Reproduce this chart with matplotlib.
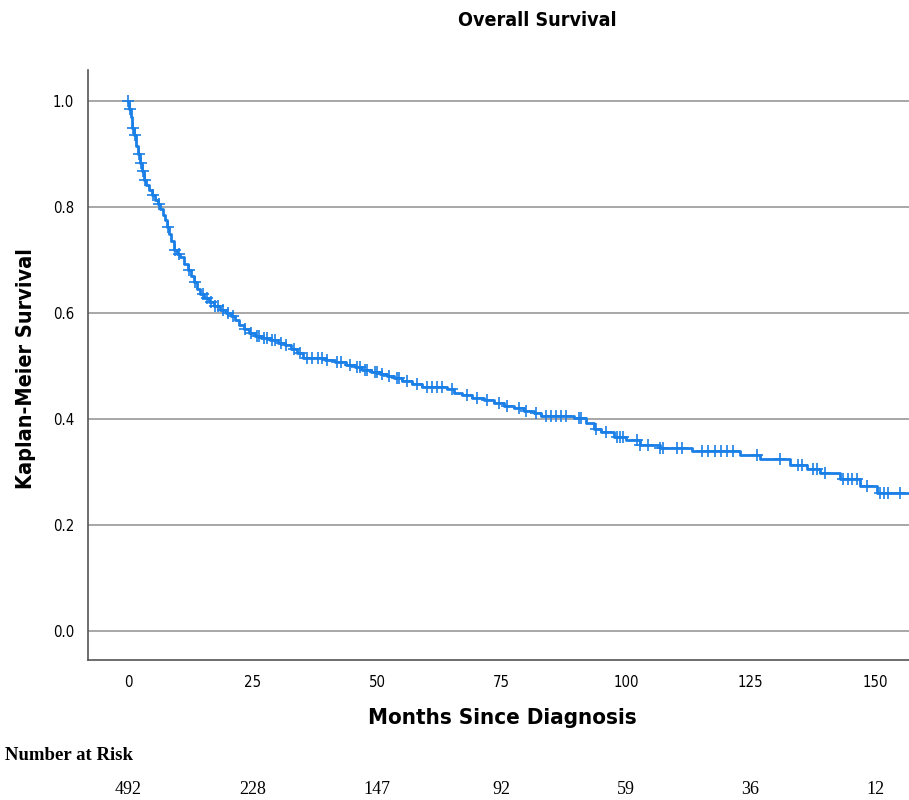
import numpy as np
import matplotlib
matplotlib.use("Agg")
import matplotlib.pyplot as plt
from matplotlib import font_manager

# ---------------- data ----------------
event_times = [0, 0.3, 0.6, 0.9, 1.2, 1.6, 2.0, 2.4, 2.8, 3.2, 3.7, 4.2, 4.8, 5.4,
               6.0, 6.5, 7.0, 7.4, 7.8, 8.2, 8.7, 9.2, 9.8, 10.5, 11.2, 12.0, 12.6,
               13.2, 13.8, 14.5, 15.3, 16.2, 17.2, 18.4, 19.6, 20.6, 21.5, 22.3,
               23.2, 24.2, 25.4, 26.8, 28.5, 30.2, 31.5, 32.8, 34.0, 35.2, 39.5,
               41.5, 43.8, 45.5, 47.0, 48.8, 50.5, 52.0, 53.5, 55.0, 57.0, 59.0,
               64.0, 65.5, 67.0, 69.0, 71.5, 73.5, 75.5, 77.5, 79.5, 81.5, 83.0,
               89.5, 92.0, 93.5, 95.0, 97.5, 100.0, 102.8, 106.8, 113.3, 122.9,
               126.9, 132.9, 136.3, 139.0, 143.0, 147.0, 150.4, 158.0]
survival = [1.0, 0.985, 0.97, 0.95, 0.935, 0.915, 0.9, 0.883, 0.868, 0.851, 0.842,
            0.832, 0.822, 0.813, 0.805, 0.797, 0.785, 0.775, 0.762, 0.75, 0.735,
            0.719, 0.712, 0.705, 0.693, 0.681, 0.67, 0.658, 0.645, 0.636, 0.628,
            0.621, 0.613, 0.606, 0.6, 0.594, 0.586, 0.578, 0.57, 0.562, 0.557,
            0.553, 0.549, 0.544, 0.539, 0.532, 0.524, 0.516, 0.512, 0.508, 0.502,
            0.498, 0.493, 0.489, 0.485, 0.481, 0.477, 0.472, 0.466, 0.461, 0.456,
            0.45, 0.445, 0.44, 0.436, 0.43, 0.425, 0.42, 0.416, 0.411, 0.406,
            0.402, 0.392, 0.381, 0.376, 0.366, 0.36, 0.351, 0.345, 0.34, 0.332,
            0.325, 0.313, 0.306, 0.298, 0.287, 0.274, 0.26, 0.26]

censor_times = [0.1, 0.5, 1.0, 1.4, 2.2, 2.6, 3.0, 3.5, 5.0, 6.2, 8.0, 9.5, 10.2,
                12.3, 13.5, 15.0, 15.8, 16.6, 17.5, 18.0, 19.0, 20.0, 21.0, 23.5,
                24.6, 25.8, 26.3, 27.3, 28.0, 29.0, 29.6, 30.8, 31.8, 33.3, 34.5,
                36.0, 37.0, 38.2, 39.0, 40.0, 42.0, 42.8, 44.5, 46.0, 46.5, 47.5,
                48.0, 49.5, 50.0, 51.0, 52.5, 54.0, 54.5, 56.0, 58.0, 60.0, 61.0,
                62.0, 63.0, 65.0, 68.0, 70.0, 72.0, 74.5, 76.0, 78.5, 80.0, 82.0,
                84.0, 85.0, 86.0, 87.0, 88.0, 90.5, 91.0, 94.0, 96.0, 98.2, 98.8,
                99.4, 102.2, 102.8, 104.4, 106.9, 107.4, 110.2, 111.2, 115.3, 116.5,
                117.8, 119.0, 120.3, 121.5, 126.3, 130.9, 134.5, 135.3, 137.6, 138.4,
                140.0, 143.6, 144.5, 145.4, 146.3, 148.4, 151.0, 151.8, 152.6, 155.0]

risk_times = [0, 25, 50, 75, 100, 125, 150]
risk_counts = [492, 228, 147, 92, 59, 36, 12]

x_ticks = [0, 25, 50, 75, 100, 125, 150]
y_ticks = [0.0, 0.2, 0.4, 0.6, 0.8, 1.0]

# ---------------- fonts ----------------
fl = font_manager.fontManager.ttflist
names = {f.name for f in fl}
cond_dejavu = any(f.name == 'DejaVu Sans' and f.stretch == 'condensed' for f in fl)
if 'Liberation Sans Narrow' in names:
    sans = dict(fontfamily='Liberation Sans Narrow')
    scale = 1.0
elif cond_dejavu:
    sans = dict(fontfamily='DejaVu Sans', fontstretch='condensed')
    scale = 0.93
else:
    sans = dict(fontfamily='Liberation Sans')
    scale = 0.88
serif = 'Liberation Serif'

blue = '#1a7fe6'

fig = plt.figure(figsize=(9.09, 8.0), dpi=100)
ax = fig.add_axes([88 / 909, 140 / 800, (909 - 88) / 909, 590 / 800])

ax.step(event_times, survival, where='post', color=blue, lw=2.0, zorder=3)

et = np.array(event_times)
sv = np.array(survival)
idx = np.searchsorted(et, censor_times, side='right') - 1
ax.plot(censor_times, sv[idx], linestyle='none', marker='+', color=blue,
        markersize=9, mew=1.2, zorder=4)

ax.set_xlim(-8.03, 156.8)
ax.set_ylim(-0.0547, 1.0585)
ax.set_xticks(x_ticks)
ax.set_yticks(y_ticks)
ax.set_xticklabels([str(t) for t in x_ticks], fontsize=11.5 * scale, **sans)
ax.set_yticklabels([f"{v:.1f}" for v in y_ticks], fontsize=11.5 * scale, **sans)
ax.tick_params(axis='x', length=0, pad=11)
ax.tick_params(axis='y', length=0, pad=10)
for v in y_ticks:
    ax.axhline(v, color='#a0a0a0', lw=1.3, zorder=1)
for s in ['top', 'right']:
    ax.spines[s].set_visible(False)
for s in ['left', 'bottom']:
    ax.spines[s].set_color('#555555')
    ax.spines[s].set_linewidth(1.2)

fig.text(502 / 909, 1 - 718 / 800, 'Months Since Diagnosis', ha='center', va='center',
         fontweight='bold', fontsize=17.2 * scale, **sans)
fig.text(26 / 909, 1 - 369 / 800, 'Kaplan-Meier Survival', ha='center', va='center',
         rotation=90, fontweight='bold', fontsize=16.6 * scale, **sans)
fig.text(537 / 909, 1 - 21 / 800, 'Overall Survival', ha='center', va='center',
         fontweight='bold', fontsize=15.2 * scale, **sans)

fig.text(5 / 909, 1 - 755 / 800, 'Number at Risk', ha='left', va='center',
         fontfamily=serif, fontweight='bold', fontsize=13.5)
for t, n in zip(risk_times, risk_counts):
    xf = fig.transFigure.inverted().transform(ax.transData.transform((t, 0)))[0]
    fig.text(xf, 1 - 790 / 800, str(n), ha='center', va='center',
             fontfamily=serif, fontsize=13)

fig.savefig('out.png', dpi=100)
